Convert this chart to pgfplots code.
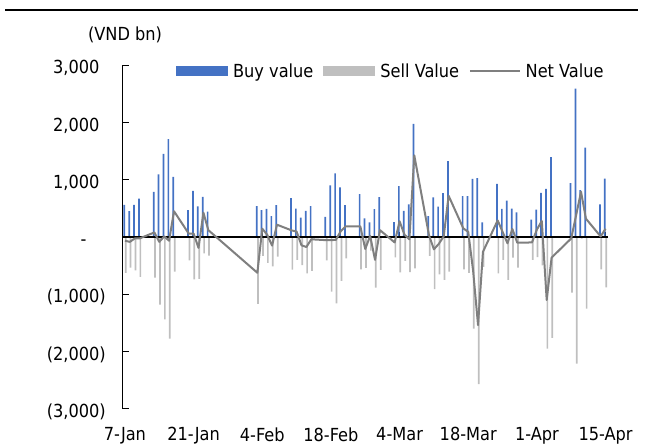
\documentclass[border=0pt]{standalone}
\usepackage{fontspec}
\setmainfont{DejaVu Sans Condensed}
\usepackage{pgfplots}
\usepackage{pgfplotstable}
\pgfplotsset{compat=1.18}
\definecolor{buyblue}{HTML}{4472C4}
\definecolor{sellgray}{HTML}{BFBFBF}
\definecolor{netgray}{HTML}{7F7F7F}

% d = days since 7-Jan-2025
\pgfplotstableread{
d buy sell net
0 560 -625 -65
1 450 -535 -85
2 560 -585 -25
3 670 -695 -25
6 790 -710 80
7 1095 -1180 -85
8 1450 -1440 10
9 1710 -1775 -65
10 1050 -605 450
13 470 -410 60
14 805 -740 60
15 535 -730 -190
16 700 -285 425
17 445 -325 120
27 540 -1170 -625
28 470 -330 145
29 490 -450 40
30 365 -515 -150
31 555 -345 215
34 680 -570 115
35 495 -400 95
36 340 -490 -145
37 455 -635 -175
38 540 -590 -40
41 350 -410 -55
42 900 -955 -55
43 1110 -1160 -50
44 865 -765 100
45 555 -375 185
48 750 -565 185
49 325 -540 -210
50 255 -240 20
51 485 -885 -400
52 695 -575 120
55 260 -355 -95
56 890 -620 275
57 455 -415 40
58 570 -615 -40
59 1975 -550 1425
62 365 -330 30
63 690 -910 -215
64 530 -655 -120
65 765 -750 10
66 1325 -605 720
69 715 -565 150
70 715 -625 90
71 1015 -1600 -590
72 1030 -2570 -1540
73 255 -520 -260
76 930 -635 290
77 490 -400 90
78 635 -750 -110
79 495 -360 140
80 430 -535 -100
83 305 -400 -95
84 480 -350 130
85 770 -495 280
86 840 -1950 -1100
87 1395 -1760 -360
91 940 -970 -25
92 2590 -2210 380
93 820 -30 790
94 1560 -1250 320
97 570 -565 10
98 1020 -880 145
}\flows

\begin{document}
\begin{tikzpicture}[font=\fontsize{18bp}{21bp}\selectfont]
\useasboundingbox (0bp,0bp) rectangle (645bp,445bp);
\draw[line width=2.5bp] (5bp,435bp) -- (638bp,435bp);
\node at (125bp,410bp) {(VND bn)};
\begin{axis}[
  at={(122.5bp,36.25bp)}, anchor=south west,
  scale only axis, width=485.5bp, height=343.5bp,
  xmin=-0.5, xmax=98.5, ymin=-3000, ymax=3000,
  axis y line*=left, axis x line*=bottom,
  x axis line style={draw=none},
  y axis line style={black, line width=0.9bp},
  xtick={0,14,28,42,56,70,84,98},
  xticklabels={7-Jan,21-Jan,4-Feb,18-Feb,4-Mar,18-Mar,1-Apr,15-Apr},
  xtick style={draw=none},
  xticklabel style={anchor=north, inner sep=0pt, yshift=-18.5bp},
  ytick={-3000,-2000,-1000,0,1000,2000,3000},
  yticklabels={{(3,000)},{(2,000)},{(1,000)},{-\hspace{13bp}\phantom{)}},{1,000\phantom{)}},{2,000\phantom{)}},{3,000\phantom{)}}},
  yticklabel style={anchor=east, inner sep=0pt, xshift=-16.5bp, yshift=-3bp},
  ytick align=inside,
  major tick length=6bp,
  ytick style={black, line width=0.9bp},
  /pgf/number format/assume math mode=true,
  legend columns=3,
  legend cell align=left,
  legend style={at={(0.110,0.983)}, anchor=west, draw=none, fill=none,
    inner sep=0pt, nodes={inner sep=0pt},
    /tikz/every odd column/.append style={column sep=5bp},
    /tikz/every even column/.append style={column sep=10bp}},
]
\foreach \t in {14,28,42,56,70,84,98}{
  \edef\temp{\noexpand\draw[black, line width=1bp] (axis cs:\t,0) -- ++(0bp,5bp);}
  \temp
}
\addplot[ybar, bar width=1.7bp, bar shift=-0.7bp, fill=buyblue, draw=none,
  legend image code/.code={\fill[buyblue] (0bp,-5bp) rectangle (52bp,5bp);}]
  table[x=d, y=buy]{\flows};
\addlegendentry{Buy value}
\addplot[ybar, bar width=1.7bp, bar shift=0.7bp, fill=sellgray, draw=none,
  legend image code/.code={\fill[sellgray] (0bp,-5bp) rectangle (52bp,5bp);}]
  table[x=d, y=sell]{\flows};
\addlegendentry{Sell Value}
\draw[black, line width=1.3bp] (axis cs:-0.5,0) -- (axis cs:98.5,0);
\addplot[netgray, line width=2bp, line join=round, mark=none,
  legend image code/.code={\draw[netgray, line width=1.5bp] (5bp,0bp) -- (55bp,0bp);}]
  table[x=d, y=net]{\flows};
\addlegendentry{Net Value}
\end{axis}
\end{tikzpicture}
\end{document}
